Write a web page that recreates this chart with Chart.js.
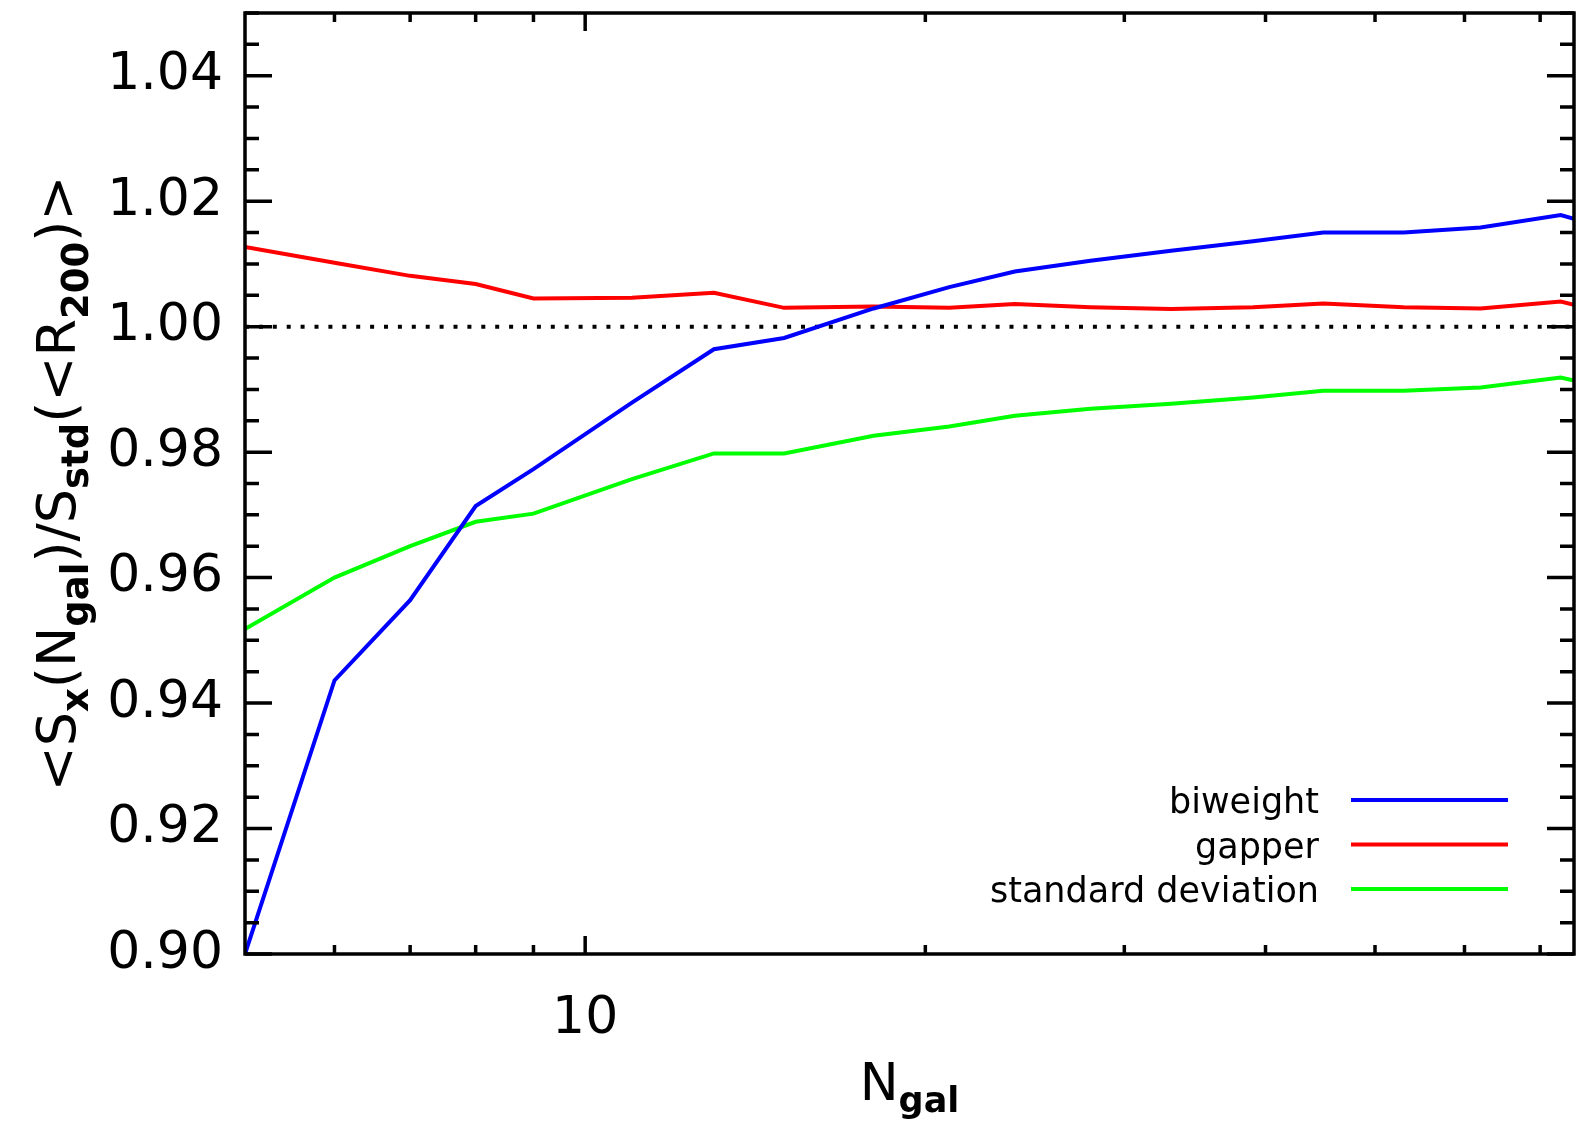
<!DOCTYPE html>
<html>
<head>
<meta charset="utf-8">
<script src="https://cdn.jsdelivr.net/npm/chart.js@4.4.1/dist/chart.umd.min.js"></script>
<style>
  body { margin: 0; background: #fff; }
  #wrap { width: 1596px; height: 1124px; }
</style>
</head>
<body>
<div id="wrap"><canvas id="chart"></canvas></div>
<script>
const nGal = [5, 6, 7, 8, 9, 11, 13, 15, 18, 21, 24, 28, 33, 39, 45, 53, 62, 73, 75];
const biweight = [0.9000, 0.9436, 0.9564, 0.9714, 0.9773, 0.9879, 0.9964, 0.9982, 1.0029, 1.0063,
  1.0088, 1.0105, 1.0121, 1.0136, 1.0150, 1.0150, 1.0158, 1.0178, 1.0172];
const gapper = [1.0127, 1.0102, 1.0081, 1.0068, 1.0045, 1.0046, 1.0054, 1.0030, 1.0032, 1.0030,
  1.0036, 1.0031, 1.0028, 1.0031, 1.0037, 1.0031, 1.0029, 1.0040, 1.0035];
const stdDev = [0.9518, 0.9600, 0.9650, 0.9689, 0.9702, 0.9757, 0.9798, 0.9798, 0.9826, 0.9841,
  0.9858, 0.9869, 0.9877, 0.9887, 0.9898, 0.9898, 0.9903, 0.9919, 0.9914];
const refX = [5, 75];
const refY = [1.0, 1.0];

const xTicks = [6, 7, 8, 9, 10, 20, 30, 40, 50, 60, 70];
const xLabels = [10];
const yLabels = [0.90, 0.92, 0.94, 0.96, 0.98, 1.00, 1.02, 1.04];

const yTitle = [['<S', 0], ['x', 1], ['(N', 0], ['gal', 1], [')/S', 0], ['std', 1], ['(<R', 0], ['200', 1], [')>', 0]];
const xTitle = [['N', 0], ['gal', 1]];

const FONT = '"DejaVu Sans", sans-serif';

function pts(xs, ys) {
  return xs.map((x, i) => ({ x: x, y: ys[i] }));
}

function isYLabel(v) {
  return yLabels.some(l => Math.abs(l - v) < 1e-6);
}

function richText(ctx, parts, x, y, size, center) {
  const sub = Math.round(size * 0.68);
  const fontOf = p => (p[1] ? 'bold ' + sub : size) + 'px ' + FONT;
  let w = 0;
  parts.forEach(p => { ctx.font = fontOf(p); w += ctx.measureText(p[0]).width; });
  let cx = center ? x - w / 2 : x;
  parts.forEach(p => {
    ctx.font = fontOf(p);
    ctx.fillText(p[0], cx, p[1] ? y + size * 0.24 : y);
    cx += ctx.measureText(p[0]).width;
  });
}

const frame = {
  id: 'frame',
  afterDatasetsDraw(chart) {
    const { ctx, chartArea: a } = chart;
    const x = chart.scales.x, y = chart.scales.y;
    ctx.save();
    ctx.strokeStyle = '#000';
    ctx.lineWidth = 3.5;
    ctx.strokeRect(a.left, a.top, a.right - a.left, a.bottom - a.top);
    ctx.beginPath();
    y.ticks.forEach(t => {
      const py = y.getPixelForValue(t.value);
      const len = isYLabel(t.value) ? 27 : 14;
      ctx.moveTo(a.left, py); ctx.lineTo(a.left + len, py);
      ctx.moveTo(a.right, py); ctx.lineTo(a.right - len, py);
    });
    x.ticks.forEach(t => {
      const px = x.getPixelForValue(t.value);
      const len = xLabels.includes(t.value) ? 18 : 9;
      ctx.moveTo(px, a.bottom); ctx.lineTo(px, a.bottom - len);
      ctx.moveTo(px, a.top); ctx.lineTo(px, a.top + len);
    });
    ctx.stroke();
    ctx.restore();
  }
};

const titles = {
  id: 'titles',
  afterDraw(chart) {
    const { ctx, chartArea: a } = chart;
    ctx.save();
    ctx.fillStyle = '#000';
    ctx.textBaseline = 'alphabetic';
    ctx.textAlign = 'left';
    richText(ctx, xTitle, (a.left + a.right) / 2, 1100, 52, true);
    ctx.translate(75, (a.top + a.bottom) / 2);
    ctx.rotate(-Math.PI / 2);
    richText(ctx, yTitle, 0, 0, 54, true);
    ctx.restore();
  }
};

const sideLegend = {
  id: 'sideLegend',
  afterDraw(chart) {
    const { ctx, chartArea: a } = chart;
    ctx.save();
    ctx.font = '35px ' + FONT;
    ctx.textAlign = 'right';
    ctx.textBaseline = 'alphabetic';
    chart.data.datasets.filter(d => d.label).forEach((d, i) => {
      const ly = a.bottom - 154 + i * 44.5;
      ctx.fillStyle = '#000';
      ctx.fillText(d.label, a.right - 255, ly + 13);
      ctx.strokeStyle = d.borderColor;
      ctx.lineWidth = 4;
      ctx.beginPath();
      ctx.moveTo(a.right - 223, ly);
      ctx.lineTo(a.right - 66, ly);
      ctx.stroke();
    });
    ctx.restore();
  }
};

const line = (label, data, color) => ({
  label: label,
  data: data,
  borderColor: color,
  borderWidth: 4,
  pointRadius: 0,
  tension: 0,
  fill: false
});

new Chart(document.getElementById('chart'), {
  type: 'line',
  data: {
    datasets: [
      line('biweight', pts(nGal, biweight), '#0000ff'),
      line('gapper', pts(nGal, gapper), '#ff0000'),
      line('standard deviation', pts(nGal, stdDev), '#00ff00'),
      {
        data: pts(refX, refY),
        borderColor: '#000',
        borderWidth: 4,
        borderDash: [4, 9.9],
        borderCapStyle: 'butt',
        pointRadius: 0,
        fill: false
      }
    ]
  },
  options: {
    responsive: true,
    maintainAspectRatio: false,
    animation: false,
    layout: { padding: { top: 13, right: 22, left: 0, bottom: 0 } },
    plugins: {
      legend: { display: false },
      tooltip: { enabled: false }
    },
    scales: {
      x: {
        type: 'logarithmic',
        min: 5,
        max: 75,
        grid: { display: false, drawTicks: false },
        border: { display: false },
        afterBuildTicks: s => { s.ticks = xTicks.map(v => ({ value: v })); },
        afterFit: s => { s.height = 170; s.paddingLeft = 0; s.paddingRight = 0; },
        ticks: {
          autoSkip: false,
          maxRotation: 0,
          padding: 34,
          color: '#000',
          font: { family: FONT, size: 52 },
          callback: v => xLabels.includes(v) ? String(v) : ''
        }
      },
      y: {
        min: 0.90,
        max: 1.05,
        grid: { display: false, drawTicks: false },
        border: { display: false },
        afterFit: s => { s.width = 245; s.paddingTop = 0; s.paddingBottom = 0; },
        ticks: {
          stepSize: 0.005,
          autoSkip: false,
          padding: 22,
          color: '#000',
          font: { family: FONT, size: 52 },
          callback: v => isYLabel(v) ? v.toFixed(2) : ''
        }
      }
    }
  },
  plugins: [frame, titles, sideLegend]
});
</script>
</body>
</html>
